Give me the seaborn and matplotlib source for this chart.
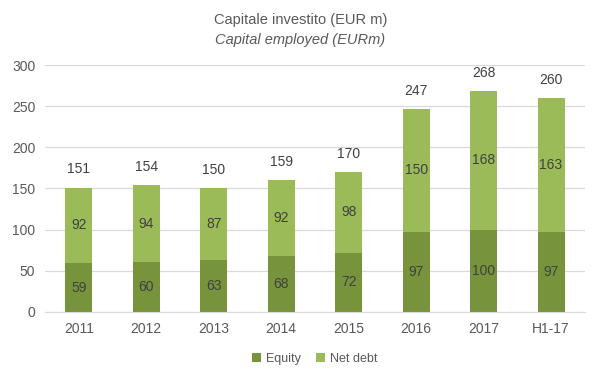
import matplotlib
matplotlib.use('Agg')
import matplotlib.pyplot as plt
import seaborn as sns
import pandas as pd
import numpy as np

categories = ['2011', '2012', '2013', '2014', '2015', '2016', '2017', 'H1-17']
equity = [59, 60, 63, 68, 72, 97, 100, 97]
net_debt = [92, 94, 87, 92, 98, 150, 168, 163]
totals = [151, 154, 150, 159, 170, 247, 268, 260]

EQ_COLOR = '#77933C'
ND_COLOR = '#9BBB59'
TXT = '#404040'
TICK = '#595959'

sns.set_style('white')
plt.rcParams['font.family'] = ['Liberation Sans', 'DejaVu Sans']

df = pd.DataFrame({'cat': categories, 'equity': equity, 'net_debt': net_debt})

fig = plt.figure(figsize=(6.01, 3.78), dpi=100)
ax = fig.add_axes([0.075, 0.175, 0.898, 0.653])

sns.barplot(data=df, x='cat', y='equity', color=EQ_COLOR, width=0.4,
            saturation=1, ax=ax, label='Equity', linewidth=0)
sns.barplot(data=df, x='cat', y='net_debt', color=ND_COLOR, width=0.4,
            saturation=1, ax=ax, bottom=df['equity'], label='Net debt',
            linewidth=0)

ax.set_ylim(0, 300)
ax.set_yticks(range(0, 301, 50))
ax.set_xlim(-0.5, len(categories) - 0.5)
ax.yaxis.grid(True, color='#D9D9D9', linewidth=0.9)
ax.set_axisbelow(True)
for s in ['top', 'right', 'left']:
    ax.spines[s].set_visible(False)
ax.spines['bottom'].set_color('#D9D9D9')
ax.set_xlabel('')
ax.set_ylabel('')
ax.tick_params(axis='both', length=0, labelsize=10, colors=TICK, pad=7)

# segment labels
for i in range(len(categories)):
    ax.text(i, equity[i] / 2, str(equity[i]), ha='center', va='center',
            fontsize=10, color=TXT)
    ax.text(i, equity[i] + net_debt[i] / 2, str(net_debt[i]), ha='center',
            va='center', fontsize=10, color=TXT)
    ax.annotate(str(totals[i]), (i, equity[i] + net_debt[i]),
                xytext=(0, 8), textcoords='offset points', ha='center',
                va='bottom', fontsize=10, color=TXT)

fig.text(0.5, 0.947, 'Capitale investito (EUR m)', ha='center', va='center',
         fontsize=10.5, color='#595959')
fig.text(0.5, 0.895, 'Capital employed (EURm)', ha='center', va='center',
         fontsize=10.5, color='#595959', style='italic')

leg = ax.legend(loc='upper center', bbox_to_anchor=(0.5, -0.12), ncol=2,
                frameon=False, fontsize=9, handlelength=0.7,
                handleheight=0.7, handletextpad=0.4, columnspacing=1.2)
for t in leg.get_texts():
    t.set_color(TICK)

fig.savefig('out.png', dpi=100)
